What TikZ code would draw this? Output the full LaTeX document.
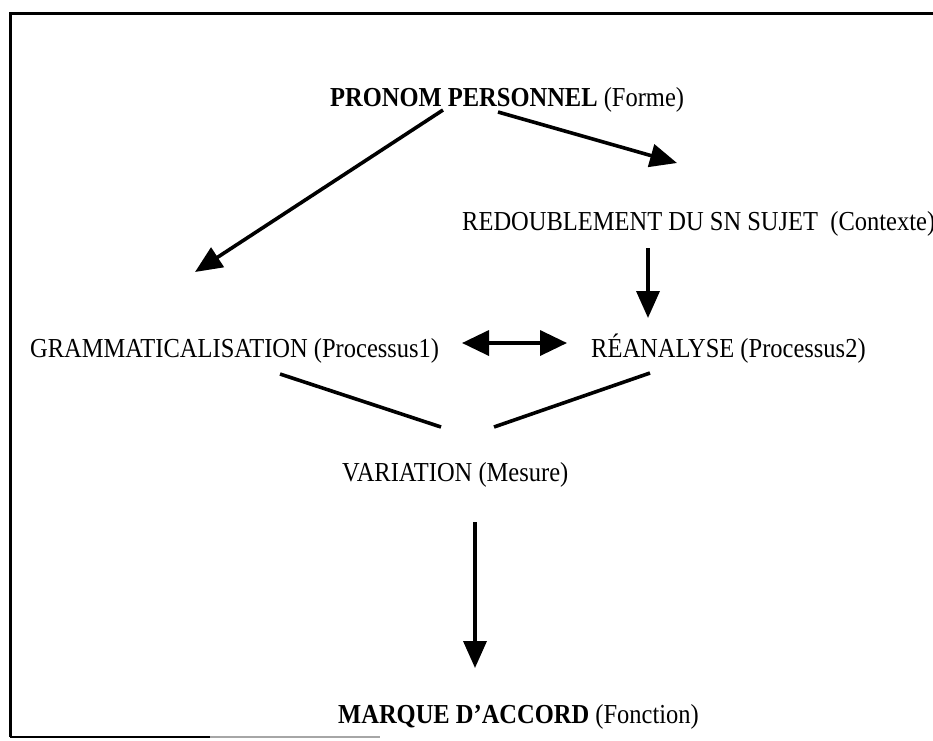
\documentclass[tikz,border=0pt]{standalone}
\usepackage{fontspec}
\setmainfont{Liberation Serif}
\usetikzlibrary{arrows.meta}
\newcommand{\stretchtxt}[1]{\scalebox{1}[1.12]{#1}}
\begin{document}
\begin{tikzpicture}[x=1pt,y=-1pt,
  lbl/.style={anchor=base west,inner sep=0pt,font=\fontsize{24.5}{28}\selectfont},
  arr/.style={line width=3.6pt,-{Triangle[length=27pt,width=23pt]}},
  dbl/.style={line width=3.6pt,{Triangle[length=27pt,width=25pt]}-{Triangle[length=27pt,width=25pt]}},
  ln/.style={line width=3.6pt},
  frame/.style={line width=3pt}]
\useasboundingbox (0,0) rectangle (933,740);
% frame
\draw[frame] (933,13) -- (10,13) -- (10,737);
\draw[line width=2pt] (10,737) -- (210,737);
\draw[line width=2pt,black!35] (210,737) -- (380,737);
% labels
\node[lbl] (pp) at (330,106) {\stretchtxt{\textbf{PRONOM PERSONNEL} (Forme)}};
\node[lbl] (red) at (462,230) {\stretchtxt{REDOUBLEMENT DU SN SUJET~ (Contexte)}};
\node[lbl] (gram) at (30,357) {\stretchtxt{GRAMMATICALISATION (Processus1)}};
\node[lbl] (rea) at (591,357) {\stretchtxt{RÉANALYSE (Processus2)}};
\node[lbl] (var) at (342,481) {\stretchtxt{VARIATION (Mesure)}};
\node[lbl] (mar) at (338,723) {\stretchtxt{\textbf{MARQUE D’ACCORD} (Fonction)}};
% connector end points
\coordinate (a1s) at (443,110);
\coordinate (a1e) at (195,272);
\coordinate (a2s) at (498,112);
\coordinate (a2e) at (677,163);
\coordinate (a3s) at (648,248);
\coordinate (a3e) at (648,318);
\coordinate (d1) at (462,343);
\coordinate (d2) at (567,343);
\coordinate (l1s) at (280,374);
\coordinate (l1e) at (441,427);
\coordinate (l2s) at (494,427);
\coordinate (l2e) at (650,373);
\coordinate (a4s) at (475,522);
\coordinate (a4e) at (475,668);
% connectors
\draw[arr] (a1s) -- (a1e);
\draw[arr] (a2s) -- (a2e);
\draw[arr] (a3s) -- (a3e);
\draw[dbl] (d1) -- (d2);
\draw[ln] (l1s) -- (l1e);
\draw[ln] (l2s) -- (l2e);
\draw[arr] (a4s) -- (a4e);
\end{tikzpicture}
\end{document}
